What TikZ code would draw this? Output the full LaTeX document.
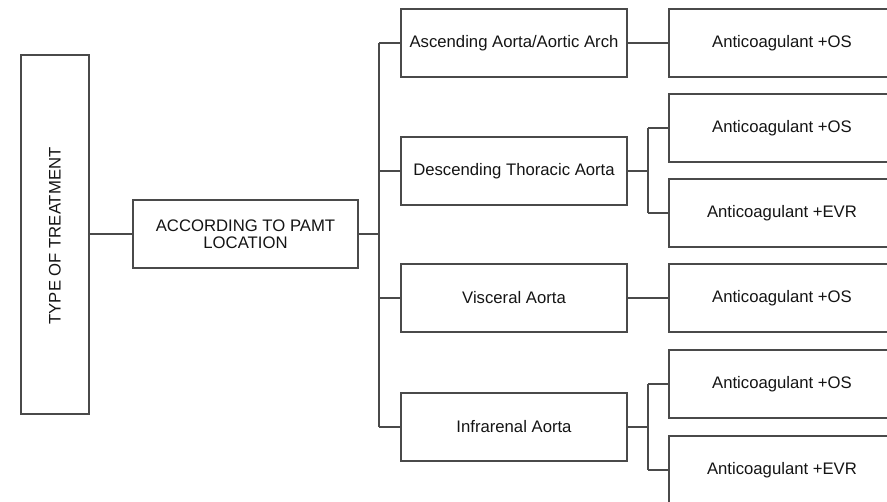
\documentclass[tikz,border=0pt]{standalone}
\usepackage{fontspec}
\setmainfont{Liberation Sans}
\definecolor{linecol}{HTML}{4A4A4A}
\definecolor{txtcol}{HTML}{141414}
\begin{document}
\begin{tikzpicture}[x=1pt,y=-1pt,
  box/.style={draw=linecol, line width=1.6pt, inner sep=0pt, outer sep=0pt,
    text=txtcol, font=\fontsize{16.7}{17}\selectfont, align=center},
  link/.style={draw=linecol, line width=1.6pt}]
\path[use as bounding box] (0,0) rectangle (887,502);
\clip (0,0) rectangle (887,502);
% level 0
\node[box, minimum width=68pt, minimum height=359pt] (type) at (55,234.5) {};
\node[rotate=90, text=txtcol, font=\fontsize{16.7}{17}\selectfont] (typetxt) at (55,236) {TYPE OF TREATMENT};
% level 1
\node[box, minimum width=225pt, minimum height=68pt] (acc) at (245.5,234) {ACCORDING TO PAMT\\LOCATION};
% level 2
\node[box, minimum width=226pt, minimum height=68pt] (asc) at (514,43) {Ascending Aorta/Aortic Arch};
\node[box, minimum width=226pt, minimum height=68pt] (desc) at (514,171) {Descending Thoracic Aorta};
\node[box, minimum width=226pt, minimum height=68pt] (visc) at (514,298) {Visceral Aorta};
\node[box, minimum width=226pt, minimum height=68pt] (infra) at (514,427) {Infrarenal Aorta};
% level 3
\node[box, minimum width=226pt, minimum height=68pt] (r1) at (782,43) {Anticoagulant +OS};
\node[box, minimum width=226pt, minimum height=68pt] (r2) at (782,128) {Anticoagulant +OS};
\node[box, minimum width=226pt, minimum height=68pt] (r3) at (782,213) {Anticoagulant +EVR};
\node[box, minimum width=226pt, minimum height=68pt] (r4) at (782,298) {Anticoagulant +OS};
\node[box, minimum width=226pt, minimum height=68pt] (r5) at (782,384) {Anticoagulant +OS};
\node[box, minimum width=226pt, minimum height=68pt] (r6) at (782,470) {Anticoagulant +EVR};
% trunk coordinates
\coordinate (trunk) at (379,234);
\coordinate (fd) at (648,171);
\coordinate (fi) at (648,427);
% connectors
\draw[link] (type.east |- acc.west) -- (acc.west);
\draw[link] (acc.east) -- (trunk);
\draw[link] (trunk |- asc.west) -- (trunk |- infra.west);
\draw[link] (trunk |- asc.west) -- (asc.west);
\draw[link] (trunk |- desc.west) -- (desc.west);
\draw[link] (trunk |- visc.west) -- (visc.west);
\draw[link] (trunk |- infra.west) -- (infra.west);
\draw[link] (asc.east) -- (r1.west);
\draw[link] (visc.east) -- (r4.west);
\draw[link] (desc.east) -- (fd);
\draw[link] (fd |- r2.west) -- (fd |- r3.west);
\draw[link] (fd |- r2.west) -- (r2.west);
\draw[link] (fd |- r3.west) -- (r3.west);
\draw[link] (infra.east) -- (fi);
\draw[link] (fi |- r5.west) -- (fi |- r6.west);
\draw[link] (fi |- r5.west) -- (r5.west);
\draw[link] (fi |- r6.west) -- (r6.west);
\end{tikzpicture}
\end{document}
